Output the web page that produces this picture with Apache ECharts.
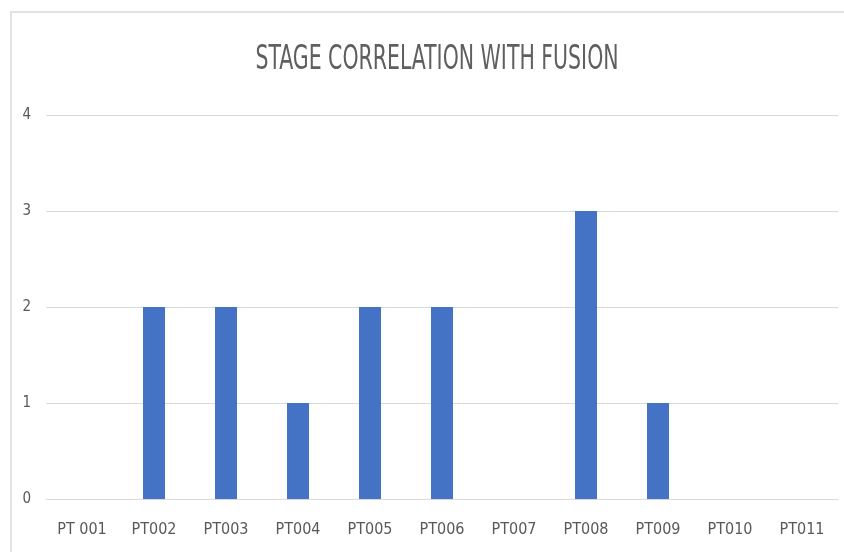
<!DOCTYPE html>
<html>
<head>
<meta charset="utf-8">
<script src="https://cdn.jsdelivr.net/npm/echarts@6/dist/echarts.min.js"></script>
<style>
html,body{margin:0;padding:0;background:#fff;}
#c{width:844px;height:552px;}
</style>
</head>
<body>
<div id="c"></div>
<script>
const categories = ['PT 001','PT002','PT003','PT004','PT005','PT006','PT007','PT008','PT009','PT010','PT011'];
const stageValues = [0,2,2,1,2,2,0,3,1,0,0];
const titleText = 'STAGE CORRELATION WITH FUSION';
const yTicks = {min:0, max:4, interval:1};

const FONT = '"Liberation Sans Narrow", "DejaVu Sans Condensed", "Liberation Sans", sans-serif';
const chart = echarts.init(document.getElementById('c'), null, {renderer:'canvas'});
chart.setOption({
  backgroundColor:'#ffffff',
  animation:false,
  graphic:[
    {type:'polyline', shape:{points:[[11,552],[11,12],[844,12]]}, style:{stroke:'#d9d9d9', lineWidth:1.5, fill:null}, silent:true},
    {type:'text', x:437, y:60, scaleX:0.69, scaleY:1,
     style:{text:titleText, x:0, y:0, textAlign:'center', textVerticalAlign:'middle',
            fontFamily:FONT, fontSize:33, fontWeight:'normal', fill:'#5f5f5f'}, silent:true}
  ],
  grid:{left:46, right:6, top:115, bottom:53, containLabel:false},
  xAxis:{
    type:'category',
    data:categories,
    axisLine:{show:true, lineStyle:{color:'#d9d9d9', width:1}},
    axisTick:{show:false},
    axisLabel:{fontFamily:FONT, fontSize:16, color:'#595959', margin:23}
  },
  yAxis:{
    type:'value',
    min:yTicks.min, max:yTicks.max, interval:yTicks.interval,
    axisLine:{show:false},
    axisTick:{show:false},
    splitLine:{lineStyle:{color:'#d9d9d9', width:1}},
    axisLabel:{fontFamily:FONT, fontSize:15, color:'#595959', margin:15}
  },
  series:[{
    type:'bar',
    data:stageValues,
    barWidth:22,
    itemStyle:{color:'#4472C4'}
  }]
});
</script>
</body>
</html>
